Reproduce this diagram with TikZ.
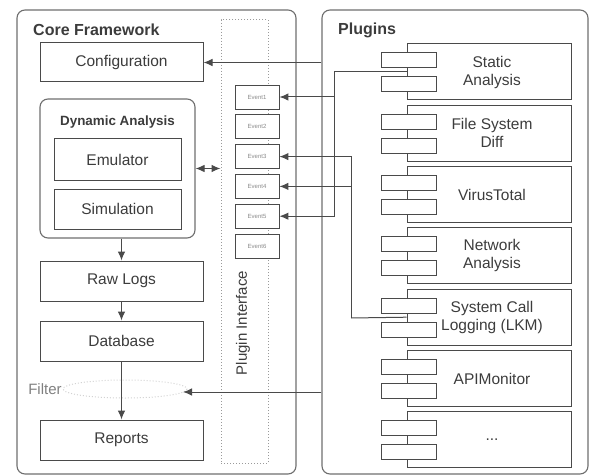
\documentclass[tikz,border=0pt]{standalone}
\usepackage{fontspec}
\setmainfont{Liberation Sans}
\usetikzlibrary{arrows.meta,calc}
\definecolor{linec}{HTML}{4A4A4A}
\definecolor{outerc}{HTML}{6E6E6E}
\definecolor{txtc}{HTML}{3C3C3C}
\definecolor{dotc}{HTML}{9A9A9A}
\tikzset{
  outerbox/.style={draw=outerc,line width=1.1pt,rounded corners=8pt,minimum width=#1,inner sep=0pt},
  plainbox/.style={draw=linec,line width=1pt,fill=white,inner sep=0pt,text=txtc,font=\fontsize{15.5}{18}\selectfont,align=center},
  titletext/.style={text=txtc,font=\bfseries\fontsize{16}{19}\selectfont,inner sep=0pt,anchor=west},
  eventbox/.style={draw=linec,line width=0.9pt,fill=white,minimum width=44pt,minimum height=24pt,inner sep=0pt,text=txtc!60,font=\fontsize{6}{7}\selectfont},
  compbox/.style={draw=linec,line width=1pt,minimum width=164pt,minimum height=56pt,inner sep=0pt},
  comptext/.style={text=txtc,font=\fontsize{15.5}{18}\selectfont,align=center,inner sep=0pt},
  portbox/.style={draw=linec,line width=1pt,fill=white,minimum width=55pt,minimum height=15pt,inner sep=0pt},
  conn/.style={draw=linec,line width=1pt},
  arr/.style={conn,-{Latex[length=9pt,width=7.5pt]}},
  darr/.style={conn,{Latex[length=9pt,width=7.5pt]}-{Latex[length=9pt,width=7.5pt]}}
}
\begin{document}
\begin{tikzpicture}[x=1pt,y=-1pt]
\useasboundingbox (0,0) rectangle (589,476);
% outer containers
\node[outerbox=279pt,minimum height=464pt] (core) at (156.5,242) {};
\node[outerbox=266pt,minimum height=464pt] (plugins) at (455,242) {};
\node[titletext] (coretitle) at (33,30) {Core Framework};
\node[titletext] (plugtitle) at (338,30) {Plugins};
% plugin interface
\node[draw=dotc,dotted,line width=1pt,minimum width=47pt,minimum height=443pt,inner sep=0pt] (pi) at (244.5,241.5) {};
\node[rotate=90,text=txtc,font=\fontsize{15}{18}\selectfont,inner sep=0pt] (pilabel) at (243,323) {Plugin Interface};
% core boxes
\node[plainbox,minimum width=163pt,minimum height=39pt] (config) at (121.5,62.5) {Configuration};
\node[draw=outerc,line width=1.1pt,rounded corners=8pt,minimum width=155pt,minimum height=139pt,inner sep=0pt] (dyn) at (117.5,168.5) {};
\node[text=txtc,font=\bfseries\fontsize{13.4}{16}\selectfont,inner sep=0pt] (dyntitle) at (117.5,122) {Dynamic Analysis};
\node[plainbox,minimum width=127pt,minimum height=41pt] (emu) at (117.5,159.5) {Emulator};
\node[plainbox,minimum width=127pt,minimum height=40pt] (sim) at (117.5,209) {Simulation};
\node[plainbox,minimum width=163pt,minimum height=40pt] (raw) at (121.5,281) {Raw Logs};
\node[plainbox,minimum width=163pt,minimum height=40pt] (db) at (121.5,341) {Database};
\node[plainbox,minimum width=163pt,minimum height=40pt] (rep) at (121.5,440) {Reports};
% filter
\draw[dotc!45,dotted,line width=1pt] (125,389) ellipse (62 and 9);
\node[text=txtc!65,font=\fontsize{15}{18}\selectfont,inner sep=0pt] (filterlabel) at (45,389) {Filter};
\coordinate (filt) at (183,392);
% events
\foreach \i in {1,...,6}{
  \node[eventbox] (e\i) at (257,{97+29.8*(\i-1)}) {Event\i};
}
% components
\foreach \i/\t in {1/{Static\\Analysis},2/{File System\\Diff},3/{VirusTotal},4/{Network\\Analysis},5/{System Call\\Logging (LKM)},6/{APIMonitor},7/{...}}{
  \pgfmathsetmacro{\ctop}{44+61.3*(\i-1)}
  \node[compbox] (c\i) at (489,{\ctop+28}) {};
  \node[portbox] (p\i a) at (408.5,{\ctop+16.5}) {};
  \node[portbox] (p\i b) at (408.5,{\ctop+40.5}) {};
  \node[comptext] (c\i t) at (492,{\ctop+28}) {\t};
}
% core arrows
\draw[arr] (dyn.south -| raw.north) -- (raw.north);
\draw[arr] (raw.south) -- (db.north);
\draw[arr] (db.south) -- (rep.north);
\draw[darr] (dyn.east) -- (dyn.east -| pi.west);
% plugin connections
\draw[arr] (config.east -| plugins.west) -- (config.east);
\draw[arr] (plugins.west |- filt) -- (filt);
\coordinate (j1) at (334,72);
\coordinate (j2) at (351,318);
\draw[conn] (c1.west) -- (j1);
\draw[arr] (j1) |- (e5.east);
\draw[arr] (j1 |- e1.east) -- (e1.east);
\draw[conn] (c5.west) -- (j2);
\draw[arr] (j2) |- (e3.east);
\draw[arr] (j2 |- e4.east) -- (e4.east);
\end{tikzpicture}
\end{document}
